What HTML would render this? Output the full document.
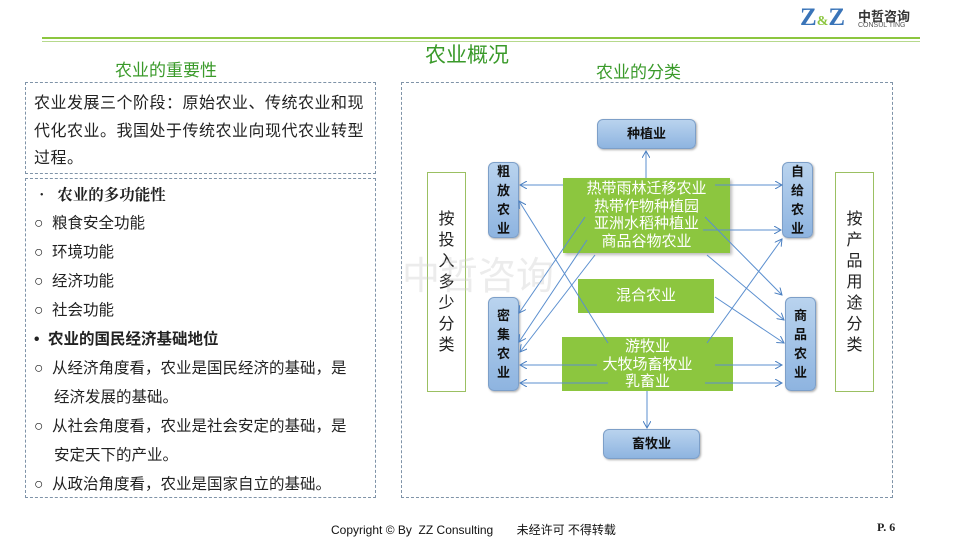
<!DOCTYPE html>
<html><head><meta charset="utf-8"><style>
*{margin:0;padding:0;box-sizing:border-box}
body{width:960px;height:540px;background:#fff;position:relative;overflow:hidden;font-family:"Liberation Sans","Noto Sans CJK SC",sans-serif;color:#222}
.a{position:absolute}
.t{white-space:nowrap}
.dash{border:1px dashed #7f93a8}
.blue{background:linear-gradient(#b9d3ee,#8eb4e0);border:1px solid #7d9fc8;border-radius:6px;font-weight:bold;font-size:13px;text-align:center;color:#111;box-shadow:1px 1px 2px #aaa}
.green{background:#8cc63f;color:#fff;text-align:center;font-size:15px;line-height:17.5px}
.vert{font-size:13px;font-weight:bold;line-height:19px;display:flex;align-items:center;justify-content:center}
.wbox{border:1px solid #9bc062;background:#fff;font-size:16px;line-height:21px;display:flex;align-items:center;justify-content:center;text-align:center}
.li{font-size:15.5px;line-height:29px;white-space:nowrap}
</style></head><body>
<div class="a" style="left:42px;top:37px;width:878px;height:2px;background:#8cc63f"></div>
<div class="a" style="left:42px;top:41px;width:878px;height:1px;background:#b6d98c"></div>
<div class="a t" style="left:800px;top:4px;font-size:25px;font-weight:bold;color:#3a74b8;font-family:'Liberation Serif',serif">Z<span style="font-size:14px;color:#8cc63f">&amp;</span>Z</div>
<div class="a t" style="left:858px;top:6px;font-size:13px;font-weight:bold;color:#333">中哲咨询</div>
<div class="a t" style="left:858px;top:22px;font-size:7px;color:#555">CONSUL TING</div>
<div class="a t" style="left:425px;top:39px;font-size:21px;color:#3a9a2a">农业概况</div>
<div class="a t" style="left:115px;top:56px;font-size:17px;color:#3a9a2a">农业的重要性</div>
<div class="a t" style="left:596px;top:58px;font-size:17px;color:#3a9a2a">农业的分类</div>

<div class="a dash" style="left:25px;top:82px;width:351px;height:92px"></div>
<div class="a t" style="left:34px;top:90px;font-size:16px;line-height:27.5px;letter-spacing:0.5px">农业发展三个阶段：原始农业、传统农业和现<br>代化农业。我国处于传统农业向现代农业转型<br>过程。</div>
<div class="a dash" style="left:25px;top:178px;width:351px;height:320px"></div>
<div class="a" style="left:34px;top:180px">
<div class="li" style="font-weight:bold;font-family:'Noto Serif CJK SC',serif">•&nbsp;&nbsp;农业的多功能性</div>
<div class="li">○&nbsp;&nbsp;粮食安全功能</div>
<div class="li">○&nbsp;&nbsp;环境功能</div>
<div class="li">○&nbsp;&nbsp;经济功能</div>
<div class="li">○&nbsp;&nbsp;社会功能</div>
<div class="li" style="font-weight:bold">•&nbsp;&nbsp;农业的国民经济基础地位</div>
<div class="li">○&nbsp;&nbsp;从经济角度看，农业是国民经济的基础，是</div>
<div class="li" style="padding-left:20px">经济发展的基础。</div>
<div class="li">○&nbsp;&nbsp;从社会角度看，农业是社会安定的基础，是</div>
<div class="li" style="padding-left:20px">安定天下的产业。</div>
<div class="li">○&nbsp;&nbsp;从政治角度看，农业是国家自立的基础。</div>
</div>

<div class="a dash" style="left:401px;top:82px;width:492px;height:416px"></div>
<div class="a wbox" style="left:427px;top:172px;width:39px;height:220px">按<br>投<br>入<br>多<br>少<br>分<br>类</div>
<div class="a wbox" style="left:835px;top:172px;width:39px;height:220px">按<br>产<br>品<br>用<br>途<br>分<br>类</div>
<div class="a blue" style="left:597px;top:119px;width:99px;height:30px;line-height:28px">种植业</div>
<div class="a blue" style="left:603px;top:429px;width:97px;height:30px;line-height:28px">畜牧业</div>
<div class="a blue vert" style="left:488px;top:162px;width:31px;height:76px">粗<br>放<br>农<br>业</div>
<div class="a blue vert" style="left:488px;top:297px;width:31px;height:94px">密<br>集<br>农<br>业</div>
<div class="a blue vert" style="left:782px;top:162px;width:31px;height:76px">自<br>给<br>农<br>业</div>
<div class="a blue vert" style="left:785px;top:297px;width:31px;height:94px">商<br>品<br>农<br>业</div>
<div class="a green" style="left:563px;top:178px;width:167px;height:75px;padding-top:2px;box-shadow:2px 2px 3px #bbb">热带雨林迁移农业<br>热带作物种植园<br>亚洲水稻种植业<br>商品谷物农业</div>
<div class="a green" style="left:578px;top:279px;width:136px;height:34px;line-height:34px">混合农业</div>
<div class="a green" style="left:562px;top:337px;width:171px;height:54px;padding-top:1px">游牧业<br>大牧场畜牧业<br>乳畜业</div>

<svg class="a" style="left:0;top:0" width="960" height="540">
<defs><marker id="m" markerWidth="8" markerHeight="8" refX="7" refY="4" orient="auto" markerUnits="userSpaceOnUse"><path d="M0,0 L7,4 L0,8" fill="none" stroke="#4a7fc0" stroke-width="1"/></marker></defs>
<g stroke="#5b8fcf" stroke-width="1" fill="none" marker-end="url(#m)">
<line x1="646" y1="178" x2="646" y2="151"/>
<line x1="563" y1="185" x2="520" y2="185"/>
<line x1="715" y1="185" x2="782" y2="185"/>
<line x1="703" y1="230" x2="781" y2="230"/>
<line x1="585" y1="217" x2="519" y2="313"/>
<line x1="587" y1="240" x2="519" y2="342"/>
<line x1="595" y1="255" x2="520" y2="352"/>
<line x1="705" y1="217" x2="782" y2="295"/>
<line x1="707" y1="255" x2="784" y2="320"/>
<line x1="715" y1="297" x2="784" y2="343"/>
<line x1="608" y1="343" x2="519" y2="201"/>
<line x1="707" y1="343" x2="782" y2="239"/>
<line x1="597" y1="365" x2="520" y2="365"/>
<line x1="608" y1="383" x2="520" y2="383"/>
<line x1="715" y1="365" x2="782" y2="365"/>
<line x1="705" y1="383" x2="782" y2="383"/>
<line x1="647" y1="391" x2="647" y2="428"/>
</g></svg>
<div class="a t" style="left:402px;top:245px;font-size:38px;color:rgba(200,200,200,0.35)">中哲咨询</div>

<div class="a t" style="left:331px;top:521px;font-size:12px;color:#111">Copyright © By&nbsp; ZZ Consulting&nbsp;&nbsp;&nbsp;&nbsp;&nbsp;&nbsp; 未经许可 不得转载</div>
<div class="a t" style="left:877px;top:520px;font-size:12px;font-weight:bold;font-family:'Liberation Serif',serif">P. 6</div>
</body></html>
